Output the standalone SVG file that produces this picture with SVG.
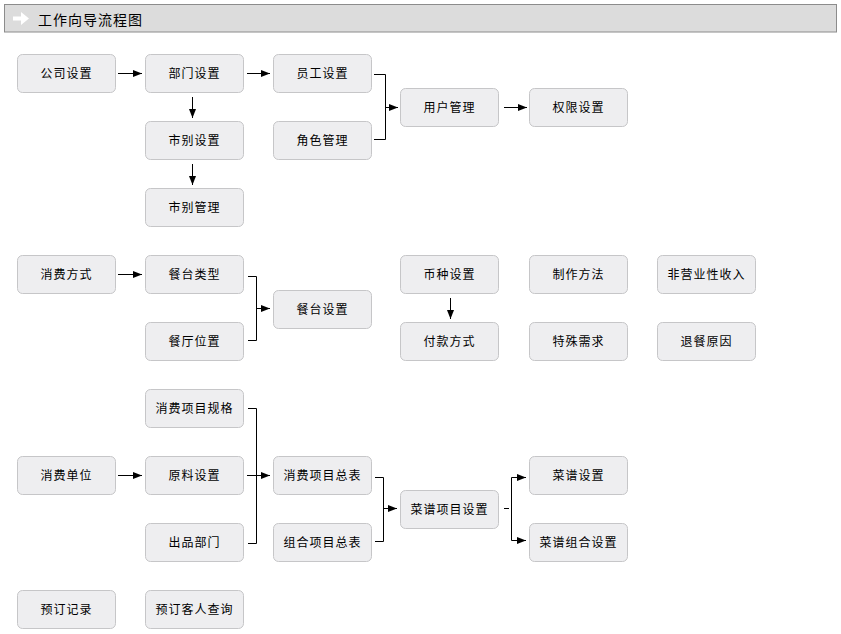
<svg xmlns="http://www.w3.org/2000/svg" width="841" height="634" viewBox="0 0 841 634">
<style>
.n rect{fill:#eeeef0;stroke:#c6c6c8;stroke-width:1}
.n text{font-family:"Noto Sans CJK SC","Noto Sans",sans-serif;font-size:12px;letter-spacing:1px;fill:#000;text-anchor:middle}
.c path{fill:none;stroke:#000;stroke-width:1}
.c path.a{marker-end:url(#ah)}
</style>
<defs>
<marker id="ah" markerUnits="userSpaceOnUse" markerWidth="9" markerHeight="8" refX="9" refY="4" orient="auto">
<path d="M0,0.5 L9,4 L0,7.5 Z" fill="#000"/>
</marker>
</defs>
<rect width="841" height="634" fill="#fff"/>
<g id="header">
<rect x="4.5" y="4.5" width="832" height="27.5" fill="#dcdcdc" stroke="#8c8c8c"/>
<path d="M13,16.5 H21 V12 L29,18.5 L21,25 V20.5 H13 Z" fill="#fff"/>
<text x="38" y="24.5" font-family="Noto Sans CJK SC,Noto Sans,sans-serif" font-size="14" letter-spacing="1" fill="#000">工作向导流程图</text>
</g>
<g id="n1" class="n"><rect x="17.5" y="54.5" width="98" height="38" rx="5"/><text x="66.5" y="78">公司设置</text></g>
<g id="n2" class="n"><rect x="145.5" y="54.5" width="98" height="38" rx="5"/><text x="194.5" y="78">部门设置</text></g>
<g id="n3" class="n"><rect x="273.5" y="54.5" width="98" height="38" rx="5"/><text x="322.5" y="78">员工设置</text></g>
<g id="n4" class="n"><rect x="145.5" y="121.5" width="98" height="38" rx="5"/><text x="194.5" y="145">市别设置</text></g>
<g id="n5" class="n"><rect x="273.5" y="121.5" width="98" height="38" rx="5"/><text x="322.5" y="145">角色管理</text></g>
<g id="n6" class="n"><rect x="145.5" y="188.5" width="98" height="38" rx="5"/><text x="194.5" y="212">市别管理</text></g>
<g id="n7" class="n"><rect x="400.5" y="88.5" width="98" height="38" rx="5"/><text x="449.5" y="112">用户管理</text></g>
<g id="n8" class="n"><rect x="529.5" y="88.5" width="98" height="38" rx="5"/><text x="578.5" y="112">权限设置</text></g>
<g id="n9" class="n"><rect x="17.5" y="255.5" width="98" height="38" rx="5"/><text x="66.5" y="279">消费方式</text></g>
<g id="n10" class="n"><rect x="145.5" y="255.5" width="98" height="38" rx="5"/><text x="194.5" y="279">餐台类型</text></g>
<g id="n11" class="n"><rect x="145.5" y="322.5" width="98" height="38" rx="5"/><text x="194.5" y="346">餐厅位置</text></g>
<g id="n12" class="n"><rect x="273.5" y="290.5" width="98" height="38" rx="5"/><text x="322.5" y="314">餐台设置</text></g>
<g id="n13" class="n"><rect x="400.5" y="255.5" width="98" height="38" rx="5"/><text x="449.5" y="279">币种设置</text></g>
<g id="n14" class="n"><rect x="400.5" y="322.5" width="98" height="38" rx="5"/><text x="449.5" y="346">付款方式</text></g>
<g id="n15" class="n"><rect x="529.5" y="255.5" width="98" height="38" rx="5"/><text x="578.5" y="279">制作方法</text></g>
<g id="n16" class="n"><rect x="529.5" y="322.5" width="98" height="38" rx="5"/><text x="578.5" y="346">特殊需求</text></g>
<g id="n17" class="n"><rect x="657.5" y="255.5" width="98" height="38" rx="5"/><text x="706.5" y="279">非营业性收入</text></g>
<g id="n18" class="n"><rect x="657.5" y="322.5" width="98" height="38" rx="5"/><text x="706.5" y="346">退餐原因</text></g>
<g id="n19" class="n"><rect x="145.5" y="389.5" width="98" height="38" rx="5"/><text x="194.5" y="413">消费项目规格</text></g>
<g id="n20" class="n"><rect x="17.5" y="456.5" width="98" height="38" rx="5"/><text x="66.5" y="480">消费单位</text></g>
<g id="n21" class="n"><rect x="145.5" y="456.5" width="98" height="38" rx="5"/><text x="194.5" y="480">原料设置</text></g>
<g id="n22" class="n"><rect x="145.5" y="523.5" width="98" height="38" rx="5"/><text x="194.5" y="547">出品部门</text></g>
<g id="n23" class="n"><rect x="273.5" y="456.5" width="98" height="38" rx="5"/><text x="322.5" y="480">消费项目总表</text></g>
<g id="n24" class="n"><rect x="273.5" y="523.5" width="98" height="38" rx="5"/><text x="322.5" y="547">组合项目总表</text></g>
<g id="n25" class="n"><rect x="400.5" y="490.5" width="98" height="38" rx="5"/><text x="449.5" y="514">菜谱项目设置</text></g>
<g id="n26" class="n"><rect x="529.5" y="456.5" width="98" height="38" rx="5"/><text x="578.5" y="480">菜谱设置</text></g>
<g id="n27" class="n"><rect x="529.5" y="523.5" width="98" height="38" rx="5"/><text x="578.5" y="547">菜谱组合设置</text></g>
<g id="n28" class="n"><rect x="17.5" y="590.5" width="98" height="38" rx="5"/><text x="66.5" y="614">预订记录</text></g>
<g id="n29" class="n"><rect x="145.5" y="590.5" width="98" height="38" rx="5"/><text x="194.5" y="614">预订客人查询</text></g>
<g id="connectors" class="c">
<path class="a" d="M118,73.5 H142"/>
<path class="a" d="M247,73.5 H270"/>
<path d="M374,74.5 H385.5 V139.5 H374"/>
<path class="a" d="M385.5,107.5 H398"/>
<path class="a" d="M504,107.5 H527"/>
<path class="a" d="M192.5,97 V118"/>
<path class="a" d="M192.5,164 V185"/>
<path class="a" d="M118,274.5 H142"/>
<path d="M248,276.5 H256.5 V340.5 H248"/>
<path class="a" d="M256.5,308.5 H270"/>
<path class="a" d="M450.5,298 V319"/>
<path class="a" d="M118,475.5 H142"/>
<path d="M248,408.5 H256.5 V543.5 H248"/>
<path class="a" d="M247,475.5 H270"/>
<path d="M375,477.5 H383.5 V541.5 H375"/>
<path class="a" d="M383.5,508.5 H397"/>
<path d="M504,508.5 H509"/>
<path class="a" d="M511.5,509 V477.5 H526"/>
<path class="a" d="M511.5,508 V540.5 H526"/>
</g>
</svg>
